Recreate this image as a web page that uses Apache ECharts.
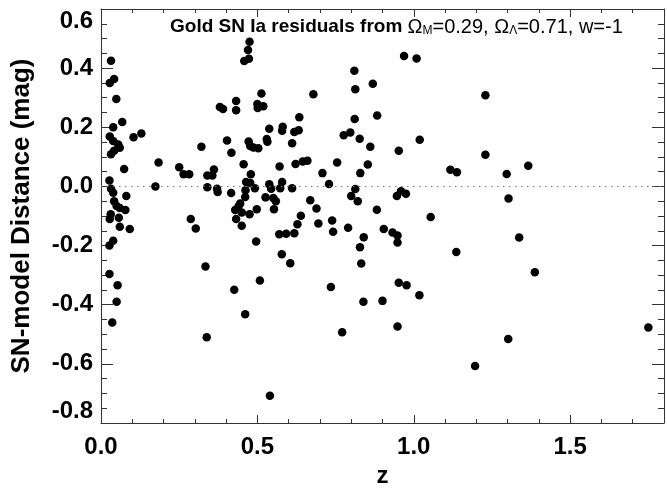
<!DOCTYPE html>
<html><head><meta charset="utf-8">
<script src="https://cdn.jsdelivr.net/npm/echarts@6/dist/echarts.min.js"></script>
<style>html,body{margin:0;padding:0;background:#fff}#c{width:667px;height:493px}</style>
</head><body><div id="c"></div>
<script>
var redshift = [
0.032,0.028,0.042,0.049,0.068,0.039,0.028,0.039,0.055,0.060,0.032,0.042,0.074,0.027,0.032,0.039,0.081,0.042,0.050,0.060,
0.078,0.031,0.028,0.057,0.060,0.092,0.039,0.027,0.027,0.053,0.050,0.036,0.104,0.129,0.174,0.184,0.250,0.264,0.282,0.321,
0.287,0.303,0.334,0.338,0.340,0.356,0.361,0.340,0.371,0.373,0.380,0.390,0.403,0.417,0.416,0.432,0.432,0.426,0.429,0.432,
0.445,0.440,0.450,0.450,0.456,0.458,0.473,0.470,0.475,0.472,0.477,0.487,0.503,0.479,0.464,0.477,0.462,0.461,0.492,0.475,
0.461,0.496,0.498,0.508,0.501,0.500,0.519,0.513,0.530,0.532,0.538,0.538,0.544,0.526,0.551,0.559,0.553,0.540,0.570,0.578,
0.571,0.579,0.581,0.573,0.579,
0.592,0.618,0.605,0.611,0.618,0.632,0.634,0.622,0.645,0.660,0.611,0.628,0.639,0.679,0.669,0.689,0.695,0.708,0.729,0.755,
0.739,0.742,0.735,0.771,0.790,0.776,0.797,0.810,0.813,0.811,0.827,0.829,0.813,0.800,0.821,0.869,0.883,0.861,0.853,0.882,
0.840,0.828,0.832,0.839,0.900,0.904,0.932,0.948,0.948,0.952,0.977,0.948,0.969,1.009,0.952,1.019,0.959,0.946,0.975,1.018,
1.054,1.117,1.138,1.136,1.196,
1.229,1.229,1.297,1.366,1.303,1.337,1.387,1.302,1.750
];
var residual = [
0.425,0.350,0.363,0.296,0.218,0.200,0.169,0.154,0.142,0.131,0.109,0.121,0.059,0.020,-0.008,-0.021,-0.032,-0.050,-0.066,-0.073,
-0.080,-0.094,-0.110,-0.106,-0.136,-0.144,-0.184,-0.200,-0.296,-0.334,-0.390,-0.460,0.166,0.179,0.000,0.081,0.065,0.041,0.041,0.134,
-0.110,-0.142,-0.271,-0.510,0.037,0.037,0.057,-0.003,-0.008,-0.019,0.269,0.262,0.155,0.114,-0.022,0.289,0.258,-0.349,-0.080,-0.110,
-0.058,-0.066,-0.088,-0.133,0.075,0.424,0.432,0.461,0.489,0.152,0.137,0.132,0.129,0.041,0.015,0.012,-0.013,-0.036,-0.006,-0.094,
-0.432,-0.186,-0.077,-0.318,0.265,0.279,0.271,0.314,0.160,0.151,0.195,0.007,-0.008,-0.037,-0.039,-0.050,-0.077,-0.708,-0.162,-0.229,
0.067,0.188,0.202,-0.006,0.015,
-0.160,-0.158,-0.260,0.146,0.184,0.190,0.234,0.076,0.084,0.087,-0.006,-0.128,-0.099,0.312,-0.047,-0.075,-0.125,0.045,0.008,0.081,
-0.115,-0.153,-0.340,-0.493,-0.140,0.173,0.182,0.391,0.329,0.228,0.161,0.045,-0.009,-0.032,-0.050,0.347,0.240,0.134,0.074,-0.079,
-0.172,-0.206,-0.261,-0.390,-0.387,-0.144,-0.156,-0.166,-0.190,-0.326,-0.334,-0.474,0.441,0.433,0.121,0.158,-0.016,-0.032,-0.025,-0.368,
-0.103,0.056,0.048,-0.222,-0.607,
0.308,0.107,0.042,0.070,-0.041,-0.173,-0.290,-0.516,-0.477
];
var xTickLabels = ['0.0','0.5','1.0','1.5'];
var yTickLabels = ['-0.8','-0.6','-0.4','-0.2','0.0','0.2','0.4','0.6'];

var pts = redshift.map(function(z,i){return [z, residual[i]];});
var FONT = 'Liberation Sans, Arial, Helvetica, sans-serif';
var axisCol = '#333';

var chart = echarts.init(document.getElementById('c'), null, {renderer:'canvas'});
chart.setOption({
  animation:false,
  backgroundColor:'#fff',
  title:{
    left:165, top:12,
    text:'{b|Gold SN Ia residuals from }{n|Ω}{s|M}{n|=0.29, Ω}{s|Λ}{n|=0.71, w=-1}',
    textStyle:{
      rich:{
        b:{fontFamily:FONT,fontWeight:'bold',fontSize:19,color:'#000'},
        n:{fontFamily:FONT,fontWeight:'normal',fontSize:20,color:'#000'},
        s:{fontFamily:FONT,fontWeight:'normal',fontSize:12,color:'#000',verticalAlign:'bottom'}
      }
    }
  },
  grid:{left:101, top:9, width:568, height:418, containLabel:false},
  xAxis:[{
    type:'value', min:0, max:1.8, interval:0.5,
    name:'z', nameLocation:'middle', nameGap:41,
    nameTextStyle:{fontFamily:FONT,fontWeight:'bold',fontSize:24,color:'#000'},
    axisLine:{show:true,onZero:false,lineStyle:{color:axisCol,width:1}},
    axisTick:{show:true,inside:true,length:8,lineStyle:{color:axisCol}},
    minorTick:{show:true,splitNumber:5,length:4,lineStyle:{color:axisCol}},
    splitLine:{show:false}, minorSplitLine:{show:false},
    axisLabel:{margin:12,fontFamily:FONT,fontWeight:'bold',fontSize:24,color:'#000',
      formatter:function(v){var s=v.toFixed(1);return xTickLabels.indexOf(s)>=0?s:'';}}
  },{
    type:'value', position:'top', min:0, max:1.8, interval:0.5,
    axisLine:{show:true,onZero:false,lineStyle:{color:axisCol,width:1}},
    axisTick:{show:true,inside:true,length:8,lineStyle:{color:axisCol}},
    minorTick:{show:true,splitNumber:5,length:4,lineStyle:{color:axisCol}},
    splitLine:{show:false}, axisLabel:{show:false}
  }],
  yAxis:[{
    type:'value', min:-0.8, max:0.6, interval:0.2,
    name:'SN-model Distance (mag)', nameLocation:'middle', nameGap:66,
    nameTextStyle:{fontFamily:FONT,fontWeight:'bold',fontSize:26,color:'#000'},
    axisLine:{show:true,onZero:false,lineStyle:{color:axisCol,width:1}},
    axisTick:{show:true,inside:true,length:12,lineStyle:{color:axisCol}},
    minorTick:{show:true,splitNumber:4,length:6,lineStyle:{color:axisCol}},
    splitLine:{show:false}, minorSplitLine:{show:false},
    axisLabel:{margin:8,fontFamily:FONT,fontWeight:'bold',fontSize:24,color:'#000',
      verticalAlignMinLabel:'bottom', verticalAlignMaxLabel:'top',
      formatter:function(v){var s=v.toFixed(1); if(s==='-0.0')s='0.0'; return yTickLabels.indexOf(s)>=0?s:'';}}
  },{
    type:'value', position:'right', min:-0.8, max:0.6, interval:0.2,
    axisLine:{show:true,onZero:false,lineStyle:{color:axisCol,width:1}},
    axisTick:{show:true,inside:true,length:12,lineStyle:{color:axisCol}},
    minorTick:{show:true,splitNumber:4,length:6,lineStyle:{color:axisCol}},
    splitLine:{show:false}, axisLabel:{show:false}
  }],
  series:[{
    type:'scatter', xAxisIndex:0, yAxisIndex:0,
    data:pts, symbol:'circle', symbolSize:8.5,
    itemStyle:{color:'#000',opacity:1},
    markLine:{
      silent:true, symbol:['none','none'], label:{show:false},
      lineStyle:{color:'#777',type:[1.5,4.5],width:1.2},
      data:[[{coord:[0,0]},{coord:[1.8,0]}]]
    }
  }]
});
</script></body></html>
